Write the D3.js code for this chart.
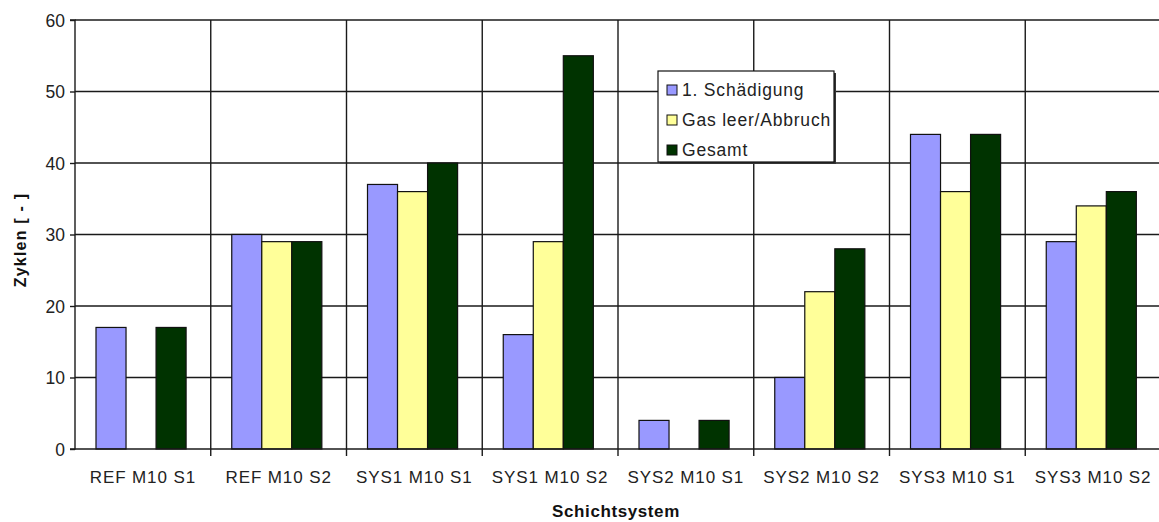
<!DOCTYPE html>
<html>
<head>
<meta charset="utf-8">
<script src="https://cdn.jsdelivr.net/npm/d3@7"></script>
<style>
  html, body { margin: 0; padding: 0; background: #fff; }
  svg { display: block; font-family: "Liberation Sans", Arial, sans-serif; }
</style>
</head>
<body>
<svg id="chart" width="1159" height="522"></svg>
<script>
// Layer systems on the x axis
const categories = ["REF M10 S1", "REF M10 S2", "SYS1 M10 S1", "SYS1 M10 S2",
                    "SYS2 M10 S1", "SYS2 M10 S2", "SYS3 M10 S1", "SYS3 M10 S2"];
const seriesNames = ["1. Schädigung", "Gas leer/Abbruch", "Gesamt"];
// Cycle counts per series (null = no value recorded)
const ersteSchaedigung = [17, 30, 37, 16, 4, 10, 44, 29];
const gasLeerAbbruch   = [null, 29, 36, 29, null, 22, 36, 34];
const gesamt           = [17, 29, 40, 55, 4, 28, 44, 36];
const seriesColors = ["#9999FF", "#FFFF99", "#003300"];
const yTicks = [0, 10, 20, 30, 40, 50, 60];

const seriesValues = [ersteSchaedigung, gasLeerAbbruch, gesamt];

const svg = d3.select("#chart");
const plot = { left: 75, right: 1161, top: 20, bottom: 449 };

const x = d3.scaleBand().domain(categories).range([plot.left, plot.right]).padding(0);
const xs = d3.scaleBand().domain(seriesNames).range([0, x.bandwidth()])
  .paddingInner(0).paddingOuter(0.76).align(0.46);
const y = d3.scaleLinear().domain([0, 60]).range([plot.bottom, plot.top]);

const gridColor = "#1a1a1a";

// horizontal grid lines
svg.append("g").selectAll("line").data(yTicks.filter(d => d > 0)).join("line")
  .attr("x1", plot.left).attr("x2", plot.right)
  .attr("y1", d => y(d)).attr("y2", d => y(d))
  .attr("stroke", gridColor).attr("stroke-width", 1.4);

// vertical grid lines at category boundaries
svg.append("g").selectAll("line").data(categories.slice(1)).join("line")
  .attr("x1", d => x(d)).attr("x2", d => x(d))
  .attr("y1", plot.top).attr("y2", plot.bottom)
  .attr("stroke", gridColor).attr("stroke-width", 1.4);

// bars
const groups = svg.append("g").selectAll("g").data(categories).join("g")
  .attr("transform", d => `translate(${x(d)},0)`);
groups.each(function(cat, ci) {
  const g = d3.select(this);
  seriesNames.forEach((s, si) => {
    const v = seriesValues[si][ci];
    if (v == null) return;
    g.append("rect")
      .attr("x", xs(s)).attr("width", xs.bandwidth())
      .attr("y", y(v)).attr("height", y(0) - y(v))
      .attr("fill", seriesColors[si])
      .attr("stroke", "#111").attr("stroke-width", 1.2);
  });
});

// y axis
const yAxis = d3.axisLeft(y).tickValues(yTicks).tickSize(5).tickPadding(5).tickFormat(d3.format("d"));
const gy = svg.append("g").attr("transform", `translate(${plot.left},0)`).call(yAxis);
gy.select(".domain").attr("stroke", gridColor).attr("stroke-width", 1.4)
  .attr("d", `M-5,${plot.top}H0V${plot.bottom}H-5`);
gy.selectAll(".tick line").attr("stroke", gridColor).attr("stroke-width", 1.4);
gy.selectAll(".tick text").attr("fill", "#222").style("font-size", "17.5px")
  .attr("dy", "0.36em");

// x axis
const xAxis = d3.axisBottom(x).tickSize(0).tickPadding(0);
const gx = svg.append("g").attr("transform", `translate(0,${plot.bottom})`).call(xAxis);
gx.select(".domain").attr("stroke", gridColor).attr("stroke-width", 1.4)
  .attr("d", `M${plot.left},0H${plot.right}`);
gx.selectAll(".tick text").attr("fill", "#222").style("font-size", "17px")
  .style("letter-spacing", "0.9px").attr("y", 34).attr("dy", 0);
// boundary tick marks below the axis
gx.append("g").selectAll("line").data(categories.slice(1)).join("line")
  .attr("x1", d => x(d)).attr("x2", d => x(d)).attr("y1", 0).attr("y2", 7)
  .attr("stroke", gridColor).attr("stroke-width", 1.4);

// axis titles
svg.append("text")
  .attr("transform", "translate(26,240) rotate(-90)")
  .attr("text-anchor", "middle").attr("fill", "#111")
  .style("font-size", "16px").style("font-weight", "bold").style("letter-spacing", "1.2px")
  .text("Zyklen [ - ]");
svg.append("text")
  .attr("x", 616).attr("y", 517)
  .attr("text-anchor", "middle").attr("fill", "#111")
  .style("font-size", "17px").style("font-weight", "bold").style("letter-spacing", "0.6px")
  .text("Schichtsystem");

// legend
const lg = svg.append("g").attr("transform", "translate(658,71)");
lg.append("rect").attr("x", 2).attr("y", 2).attr("width", 176).attr("height", 91).attr("fill", "#333");
lg.append("rect").attr("width", 176).attr("height", 91)
  .attr("fill", "#fff").attr("stroke", "#111").attr("stroke-width", 1.2);
seriesNames.forEach((s, i) => {
  const ry = 19 + i * 30;
  lg.append("rect").attr("x", 9).attr("y", ry - 5).attr("width", 10).attr("height", 10)
    .attr("fill", seriesColors[i]).attr("stroke", "#111").attr("stroke-width", 1);
  lg.append("text").attr("x", 24).attr("y", ry + 6)
    .attr("fill", "#222").style("font-size", "17.5px").style("letter-spacing", "0.8px")
    .text(s);
});
</script>
</body>
</html>
